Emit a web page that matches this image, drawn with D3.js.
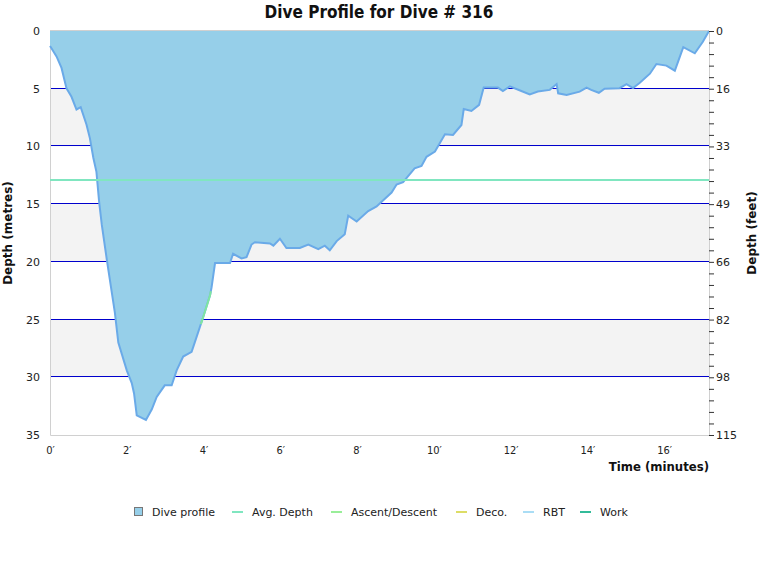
<!DOCTYPE html>
<html>
<head>
<meta charset="utf-8">
<script src="https://cdn.jsdelivr.net/npm/d3@7"></script>
<style>
  body { margin: 0; background: #fff; }
  svg { display: block; }
</style>
</head>
<body>
<div id="chart"></div>
<script>
// time (minutes) and depth (metres)
const times = [0, 0.03, 0.17, 0.3, 0.43, 0.56, 0.69, 0.8, 0.95, 1.04, 1.13, 1.21, 1.28, 1.35, 1.48, 1.69, 1.78, 2.0, 2.13, 2.19, 2.26, 2.5, 2.65, 2.78, 2.99, 3.17, 3.3, 3.47, 3.69, 3.82, 3.99, 4.17, 4.21, 4.3, 4.69, 4.77, 4.99, 5.12, 5.25, 5.34, 5.73, 5.82, 5.99, 6.16, 6.51, 6.73, 6.99, 7.16, 7.29, 7.47, 7.68, 7.77, 7.99, 8.29, 8.51, 8.64, 8.9, 9.03, 9.2, 9.5, 9.68, 9.81, 10.03, 10.29, 10.5, 10.72, 10.78, 10.98, 11.18, 11.3, 11.67, 11.8, 11.98, 12.28, 12.5, 12.71, 13.02, 13.2, 13.24, 13.46, 13.8, 13.98, 14.1, 14.3, 14.45, 14.84, 15.02, 15.19, 15.36, 15.63, 15.8, 16.06, 16.28, 16.5, 16.8, 17.01, 17.17];
const depths = [1.3, 1.45, 2.2, 3.2, 4.97, 5.7, 6.8, 6.6, 8.1, 9.3, 11.0, 12.2, 14.8, 16.8, 19.8, 24.4, 27.0, 29.4, 30.5, 31.4, 33.3, 33.7, 32.8, 31.7, 30.7, 30.7, 29.4, 28.2, 27.8, 26.5, 24.8, 22.9, 22.2, 20.1, 20.1, 19.3, 19.7, 19.6, 18.5, 18.3, 18.4, 18.6, 18.0, 18.8, 18.8, 18.5, 18.9, 18.6, 19.0, 18.2, 17.6, 16.0, 16.5, 15.6, 15.2, 14.8, 14.0, 13.3, 13.1, 11.9, 11.7, 10.9, 10.45, 8.95, 9.0, 8.14, 6.76, 6.93, 6.4, 4.9, 4.9, 5.2, 4.8, 5.2, 5.5, 5.25, 5.1, 4.6, 5.4, 5.55, 5.25, 4.9, 5.1, 5.35, 5.0, 4.95, 4.6, 4.95, 4.5, 3.7, 2.86, 3.0, 3.44, 1.4, 1.93, 0.93, 0];

const avgDepth = 12.9;
const ascentTimes = [3.93, 4.19];   // short ascent/descent highlight on the profile
const xTicks = [0, 2, 4, 6, 8, 10, 12, 14, 16];
const yTicks = [0, 5, 10, 15, 20, 25, 30, 35];
const legendLabels = ['Dive profile', 'Avg. Depth', 'Ascent/Descent', 'Deco.', 'RBT', 'Work'];
const legendColors = ['#96cfe9', '#80e6c0', '#99ee99', '#dddd66', '#aaddf5', '#33bb99'];

const W = 760, H = 580;
const margin = { top: 31, right: 51, bottom: 145, left: 50 };
const x0 = margin.left, x1 = W - margin.right, y0 = margin.top, y1 = H - margin.bottom;

const data = times.map((t, i) => ({ t, d: depths[i] }));

const x = d3.scaleLinear().domain([0, d3.max(times)]).range([x0, x1]);
const y = d3.scaleLinear().domain([0, 35]).range([y0, y1]);

const svg = d3.select('#chart').append('svg').attr('width', W).attr('height', H);

// alternating bands
svg.append('g').selectAll('rect')
  .data(yTicks.slice(0, -1).filter((v, i) => i % 2 === 1))
  .join('rect')
  .attr('x', x0).attr('width', x1 - x0)
  .attr('y', d => y(d)).attr('height', d => y(d + 5) - y(d))
  .attr('fill', '#f3f3f3');

// grid lines
svg.append('g').selectAll('line')
  .data(yTicks.slice(1, -1))
  .join('line')
  .attr('x1', x0).attr('x2', x1)
  .attr('y1', d => Math.round(y(d)) - 0.5).attr('y2', d => Math.round(y(d)) - 0.5)
  .attr('stroke', '#0000cc').attr('stroke-width', 1);

// plot border
svg.append('path')
  .attr('d', `M${x0 + 0.5},${y0}V${y1 + 0.5}H${x1}M${x0},${y0 - 0.5}H${x1}`)
  .attr('fill', 'none').attr('stroke', '#d0d0d0');

// profile
const area = d3.area().x(d => x(d.t)).y0(y(0)).y1(d => y(d.d));
svg.append('path').datum(data).attr('d', area).attr('fill', '#96cfe9');
const line = d3.line().x(d => x(d.t)).y(d => y(d.d));
svg.append('path').datum(data).attr('d', line)
  .attr('fill', 'none').attr('stroke', '#6aaae8').attr('stroke-width', 2);

// ascent/descent highlight
const interp = t => {
  const i = d3.bisectRight(times, t);
  const a = data[i - 1], b = data[i];
  return { t, d: a.d + (b.d - a.d) * (t - a.t) / (b.t - a.t) };
};
const ascData = [interp(ascentTimes[0]),
  ...data.filter(d => d.t > ascentTimes[0] && d.t < ascentTimes[1]),
  interp(ascentTimes[1])];
svg.append('path').datum(ascData).attr('d', line)
  .attr('fill', 'none').attr('stroke', '#80e6a0').attr('stroke-width', 2);

// average depth
svg.append('line')
  .attr('x1', x0).attr('x2', x1)
  .attr('y1', y(avgDepth)).attr('y2', y(avgDepth))
  .attr('stroke', '#80e6c0').attr('stroke-width', 2);

// left axis
svg.append('g')
  .attr('transform', `translate(${x0},0)`)
  .call(d3.axisLeft(y).tickValues(yTicks).tickSize(0).tickPadding(10))
  .call(ax => ax.select('.domain').remove())
  .call(ax => ax.selectAll('text')
    .attr('font-family', 'DejaVu Sans, Verdana, sans-serif')
    .attr('font-size', '11px').attr('fill', '#222'));

// right axis in feet
const mToFt = 3.28084;
svg.append('g')
  .attr('transform', `translate(${x1},0)`)
  .call(d3.axisRight(y).tickValues(d3.range(0, 36, 1)).tickSize(5).tickPadding(2)
    .tickFormat(d => d % 5 === 0 ? String(Math.round(d * mToFt)) : ''))
  .call(ax => ax.select('.domain').attr('stroke', '#d0d0d0'))
  .call(ax => ax.selectAll('.tick line').attr('stroke', '#333'))
  .call(ax => ax.selectAll('text')
    .attr('font-family', 'DejaVu Sans, Verdana, sans-serif')
    .attr('font-size', '11px').attr('fill', '#222'));

// bottom axis
svg.append('g')
  .attr('transform', `translate(0,${y1})`)
  .call(d3.axisBottom(x).tickValues(xTicks).tickSize(0).tickPadding(11).tickFormat(d => d + '\u2032'))
  .call(ax => ax.select('.domain').remove())
  .call(ax => ax.selectAll('text')
    .attr('font-family', 'DejaVu Sans Condensed, DejaVu Sans, sans-serif')
    .attr('font-size', '11px').attr('fill', '#222'));

// titles
svg.append('text')
  .attr('x', 379).attr('y', 18).attr('text-anchor', 'middle')
  .attr('font-family', 'DejaVu Sans Condensed, DejaVu Sans, sans-serif')
  .attr('font-weight', 'bold').attr('font-size', '17px').attr('fill', '#111')
  .text('Dive Profile for Dive # 316');

svg.append('text')
  .attr('x', x1).attr('y', 471).attr('text-anchor', 'end')
  .attr('font-family', 'DejaVu Sans Condensed, DejaVu Sans, sans-serif')
  .attr('font-weight', 'bold').attr('font-size', '13px').attr('fill', '#111')
  .text('Time (minutes)');

svg.append('text')
  .attr('transform', `translate(12,${(y0 + y1) / 2}) rotate(-90)`)
  .attr('text-anchor', 'middle')
  .attr('font-family', 'DejaVu Sans, Verdana, sans-serif')
  .attr('font-weight', 'bold').attr('font-size', '12px').attr('fill', '#111')
  .text('Depth (metres)');

svg.append('text')
  .attr('transform', `translate(756,${(y0 + y1) / 2}) rotate(-90)`)
  .attr('text-anchor', 'middle')
  .attr('font-family', 'DejaVu Sans, Verdana, sans-serif')
  .attr('font-weight', 'bold').attr('font-size', '12px').attr('fill', '#111')
  .text('Depth (feet)');

// legend
const legendX = [134, 232, 331, 456, 523, 580];
const lg = svg.append('g').selectAll('g')
  .data(legendLabels.map((l, i) => ({ l, c: legendColors[i], x: legendX[i], i })))
  .join('g')
  .attr('transform', d => `translate(${d.x},512)`);

lg.filter(d => d.i === 0).append('rect')
  .attr('x', 0.5).attr('y', -4.5).attr('width', 8).attr('height', 8)
  .attr('fill', d => d.c).attr('stroke', '#777');
lg.filter(d => d.i > 0).append('line')
  .attr('x1', 0).attr('x2', 11).attr('y1', 0).attr('y2', 0)
  .attr('stroke', d => d.c).attr('stroke-width', 2);
lg.append('text')
  .attr('x', d => d.i === 0 ? 18 : 20).attr('y', 4)
  .attr('font-family', 'DejaVu Sans, Verdana, sans-serif')
  .attr('font-size', '11px').attr('fill', '#222')
  .text(d => d.l);
</script>
</body>
</html>
